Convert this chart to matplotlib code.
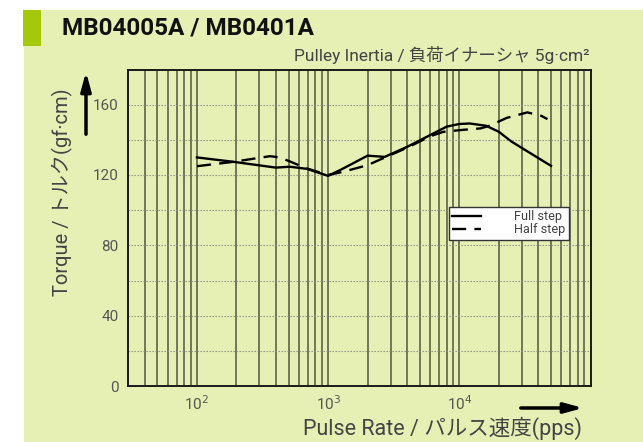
import numpy as np
import matplotlib
matplotlib.use('Agg')
import matplotlib.pyplot as plt
from matplotlib.patches import Rectangle
from matplotlib.ticker import FixedLocator, NullFormatter

plt.rcParams['font.family'] = ['Roboto', 'Noto Sans CJK JP', 'DejaVu Sans']

# data
full_x = [100, 190, 400, 510, 690, 1000, 1250, 2000, 2700, 4000, 6000, 8000,
          10000, 12000, 16000, 20000, 25000, 35000, 50000]
full_y = [130, 127.5, 124.2, 124.7, 123.5, 119.5, 123, 131, 130.3, 136, 142.7, 147.5,
          149, 149.3, 148, 144.6, 139, 132.3, 125.2]
half_x = [100, 190, 360, 430, 690, 1000, 1300, 2000, 2600, 4000, 6000, 7500,
          10000, 14500, 17000, 23000, 33000, 42000, 47000]
half_y = [125, 127.5, 130.7, 130, 123.7, 120, 121.8, 125.6, 129.4, 135.5, 142, 144.5,
          145.5, 146.5, 148, 152.5, 155.6, 153.7, 151.8]

title = 'MB04005A / MB0401A'
subtitle = 'Pulley Inertia / 負荷イナーシャ 5g·cm²'
ylabel = 'Torque / トルク(gf·cm)'
xlabel = 'Pulse Rate / パルス速度(pps)'
yticks = [0, 40, 80, 120, 160]
xticks = [100, 1000, 10000]
xticklabels = ['10$^2$', '10$^3$', '10$^4$']

bg = '#e6f0b5'
fig = plt.figure(figsize=(6.43, 4.42), dpi=100)
fig.patch.set_facecolor('white')
fig.patches.append(Rectangle((24/643, 0), 1, 1 - 10/442, transform=fig.transFigure,
                             facecolor=bg, edgecolor='none', zorder=-10))
fig.patches.append(Rectangle((23/643, 1 - 46/442), 18/643, 36/442, transform=fig.transFigure,
                             facecolor='#a6c80a', edgecolor='none', zorder=-5))

ax = fig.add_axes([128.3/643, 1 - 386/442, 462.2/643, 316.5/442])
ax.set_facecolor(bg)
ax.set_xscale('log')
ax.set_xlim(30, 1e5)
ax.set_ylim(0, 180)

# grid
minor_x = [m * 10**e for e in range(1, 5) for m in range(2, 10) if 30 < m * 10**e < 1e5]
ax.xaxis.set_major_locator(FixedLocator(xticks))
ax.xaxis.set_minor_locator(FixedLocator(minor_x))
ax.xaxis.set_minor_formatter(NullFormatter())
ax.set_xticklabels(xticklabels)
ax.set_yticks(yticks)
ax.yaxis.set_minor_locator(FixedLocator([20, 60, 100, 140, 180]))
ax.grid(True, axis='x', which='both', color='#72765a', lw=1.4)
ax.grid(True, axis='y', which='both', color='#8a8a80', lw=0.8, ls=(0, (1.2, 1.5)))
ax.tick_params(which='both', length=0, labelsize=11, labelcolor='#555555')
ax.tick_params(axis='x', pad=6)
ax.tick_params(axis='y', pad=7)
for s in ax.spines.values():
    s.set_linewidth(1.4)
    s.set_color('#1a1a1a')

ax.plot(full_x, full_y, color='black', lw=1.7, label='Full step')
ax.plot(half_x, half_y, color='black', lw=1.7, ls=(0, (6, 3.5)), label='Half step')

leg = ax.legend(loc='upper left', bbox_to_anchor=(0.693, 0.565), fontsize=9.2,
                frameon=True, fancybox=False, edgecolor='#333333', framealpha=1,
                handlelength=2.3, handletextpad=2.6, borderpad=0.25, labelspacing=0.0,
                borderaxespad=0)
leg.get_frame().set_linewidth(1.0)
for t in leg.get_texts():
    t.set_color('#444444')

fig.text(62/643, 1 - 28/442, title, fontsize=17.5, fontweight='bold', color='#111111',
         va='center', ha='left')
fig.text(590/643, 1 - 55/442, subtitle, fontsize=12.5, color='#444444', va='center', ha='right')
fig.text(62/643, 1 - 192/442, ylabel, fontsize=14.5, color='#444444', rotation=90,
         va='center', ha='center')
fig.text(582/643, 1 - 428/442, xlabel, fontsize=15.5, color='#444444', va='center', ha='right')

ax.annotate('', xy=(86/643, 1 - 69/442), xytext=(86/643, 1 - 137/442),
            xycoords='figure fraction', textcoords='figure fraction',
            arrowprops=dict(arrowstyle='-|>,head_length=1.1,head_width=0.3', color='black', lw=2.5))
ax.annotate('', xy=(586/643, 1 - 408/442), xytext=(518/643, 1 - 408/442),
            xycoords='figure fraction', textcoords='figure fraction',
            arrowprops=dict(arrowstyle='-|>,head_length=1.1,head_width=0.3', color='black', lw=2.5))

fig.savefig('out.png', dpi=100, facecolor=fig.get_facecolor())
